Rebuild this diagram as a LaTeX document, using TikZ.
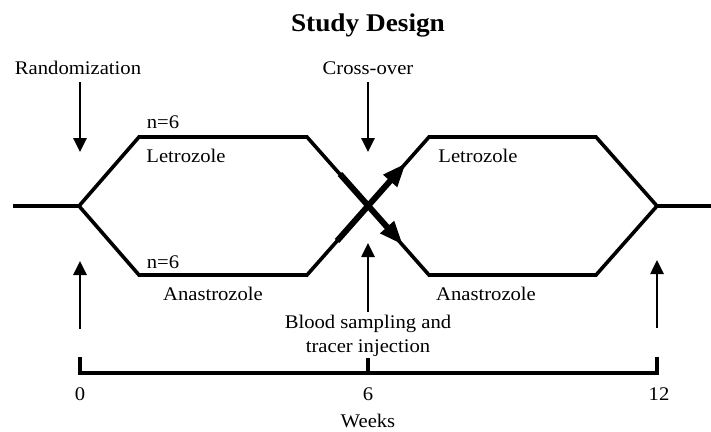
\documentclass[tikz,border=0pt]{standalone}
\usepackage{fontspec}
\setmainfont[FakeStretch=1.07]{Liberation Serif}
\usetikzlibrary{arrows.meta}
\tikzset{
  arm/.style={line width=3.6pt, line join=miter, line cap=butt},
  thickarr/.style={line width=6pt, -{Triangle[length=24pt,width=17pt]}},
  vfarrow/.style={line width=2.6pt, -{Triangle[length=14pt,width=13pt]}},
  axisline/.style={line width=3.8pt, line join=miter},
  lbl/.style={inner sep=0pt, anchor=base, font=\fontsize{19.3}{23}\selectfont},
  ttl/.style={inner sep=0pt, anchor=base, font=\fontsize{25.5}{30}\selectfont\bfseries}
}
\begin{document}
\begin{tikzpicture}[x=1pt,y=-1pt]
\useasboundingbox (0,0) rectangle (711,431);
% junctions
\coordinate (L0) at (13,206);
\coordinate (J1) at (79,206);
\coordinate (UL1) at (139,137);
\coordinate (UL2) at (307,137);
\coordinate (DL1) at (139,275);
\coordinate (DL2) at (307,275);
\coordinate (X) at (368,206);
\coordinate (UR1) at (429,137);
\coordinate (UR2) at (596,137);
\coordinate (DR1) at (429,275);
\coordinate (DR2) at (596,275);
\coordinate (J2) at (657,206);
\coordinate (R0) at (711,206);
% arms
\draw[arm] (L0) -- (J1);
\draw[arm] (J1) -- (UL1) -- (UL2) -- (X) -- (DR1) -- (DR2) -- (J2);
\draw[arm] (J1) -- (DL1) -- (DL2) -- (X) -- (UR1) -- (UR2) -- (J2);
\draw[arm] (J2) -- (R0);
% thick crossing arrows
\coordinate (TA1) at (337,241);
\coordinate (TA2) at (406,163);
\coordinate (TB1) at (340,174);
\coordinate (TB2) at (403,245);
\draw[thickarr] (TA1) -- (TA2);
\draw[thickarr] (TB1) -- (TB2);
% top arrows
\coordinate (RA1) at (80,82);
\coordinate (RA2) at (80,152);
\coordinate (CA1) at (368,82);
\coordinate (CA2) at (368,152);
\draw[vfarrow] (RA1) -- (RA2);
\draw[vfarrow] (CA1) -- (CA2);
% bottom arrows
\coordinate (BA1) at (80,329);
\coordinate (BA2) at (80,261);
\coordinate (BB1) at (368,312);
\coordinate (BB2) at (368,243);
\coordinate (BC1) at (657,328);
\coordinate (BC2) at (657,260);
\draw[vfarrow] (BA1) -- (BA2);
\draw[vfarrow] (BB1) -- (BB2);
\draw[vfarrow] (BC1) -- (BC2);
% axis
\coordinate (A0) at (80,357);
\coordinate (A0b) at (80,373);
\coordinate (A12) at (657,357);
\coordinate (A12b) at (657,373);
\coordinate (A6) at (368,358);
\coordinate (A6b) at (368,373);
\draw[axisline] (A0) -- (A0b) -- (A12b) -- (A12);
\draw[axisline] (A6) -- (A6b);
% texts
\node[ttl] (title) at (368,31) {Study Design};
\node[lbl] (rand) at (78,74) {Randomization};
\node[lbl] (cross) at (368,74) {Cross-over};
\node[lbl] (n1) at (163,128) {n=6};
\node[lbl] (n2) at (163,268) {n=6};
\node[lbl] (let1) at (186,162) {Letrozole};
\node[lbl] (let2) at (478,162) {Letrozole};
\node[lbl] (ana1) at (213,300) {Anastrozole};
\node[lbl] (ana2) at (486,300) {Anastrozole};
\node[lbl] (blood1) at (368,328) {Blood sampling and};
\node[lbl] (blood2) at (368,352) {tracer injection};
\node[lbl] (w0) at (80,400) {0};
\node[lbl] (w6) at (368,400) {6};
\node[lbl] (w12) at (659,400) {12};
\node[lbl] (weeks) at (368,427) {Weeks};
\end{tikzpicture}
\end{document}
